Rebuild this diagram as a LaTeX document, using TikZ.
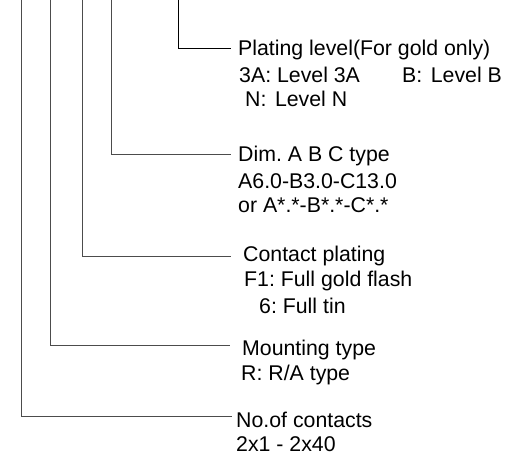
\documentclass[tikz,border=0pt]{standalone}
\usepackage{fontspec}
\setmainfont{Liberation Sans}
\frenchspacing
\begin{document}
\begin{tikzpicture}[x=1pt,y=-1pt,
  lbl/.style={anchor=west,inner sep=0pt,font=\fontsize{21.3}{24}\selectfont},
  lead/.style={draw=black!70,line width=1pt},
  leadk/.style={draw=black,line width=1pt}]
\useasboundingbox (0,0) rectangle (518,462);
% top coordinates of the leads
\coordinate (t1) at (21,0);
\coordinate (t2) at (50,0);
\coordinate (t3) at (82,0);
\coordinate (t4) at (111,0);
\coordinate (t5) at (178,0);
% lead end points
\coordinate (e5) at (231,49);
\coordinate (e4) at (231,155);
\coordinate (e3) at (231,256);
\coordinate (e2) at (230,345);
\coordinate (e1) at (232,416);
% labels
\node[lbl] (pl1) at (238,50) {Plating level(For gold only)};
\node[lbl] (pl2) at (239,75) {3A: Level 3A};
\node[lbl] (pl2b) at (402,75) {B:\hspace{0.4em}Level B};
\node[lbl] (pl3) at (245,99) {N:\hspace{0.4em}Level N};
\node[lbl] (dm1) at (238,156) {Dim. A B C type};
\node[lbl] (dm2) at (238,181) {A6.0-B3.0-C13.0};
\node[lbl] (dm3) at (238,205) {or A*.*-B*.*-C*.*};
\node[lbl] (cp1) at (243,256) {Contact plating};
\node[lbl] (cp2) at (244,281) {F1: Full gold flash};
\node[lbl] (cp3) at (259,306) {6: Full tin};
\node[lbl] (mt1) at (242,350) {Mounting type};
\node[lbl] (mt2) at (241,375) {R: R/A type};
\node[lbl] (nc1) at (236,420) {No.of contacts};
\node[lbl] (nc2) at (236,444) {2x1 - 2x40};
% leads
\draw[leadk] (t5) |- (e5);
\draw[lead] (t4) |- (e4);
\draw[lead] (t3) |- (e3);
\draw[lead] (t2) |- (e2);
\draw[lead] (t1) |- (e1);
\end{tikzpicture}
\end{document}
